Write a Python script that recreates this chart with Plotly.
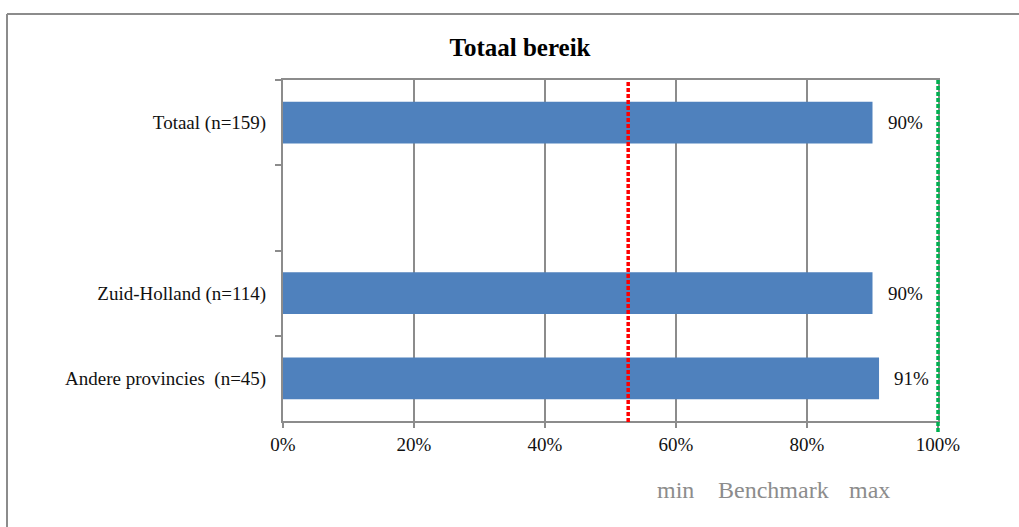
import plotly.graph_objects as go

# Reach per group (percent)
categories = ["Totaal (n=159)", " ", "Zuid-Holland (n=114)", "Andere provincies  (n=45)"]
reach_categories = ["Totaal (n=159)", "Zuid-Holland (n=114)", "Andere provincies  (n=45)"]
reach = [90, 90, 91]
reach_labels = ["90%", "90%", "91%"]

# Benchmark bounds (percent)
benchmark_min = 52.7
benchmark_max = 100

x_ticks = [0, 20, 40, 60, 80, 100]
x_tick_labels = ["0%", "20%", "40%", "60%", "80%", "100%"]

FONT = "Liberation Serif"
GRID = "#8c8c8c"

# Pixel geometry of the figure
W, H = 1019, 527
LEFT, TOP = 283, 80
AXIS_RIGHT, AXIS_BOTTOM = 938, 421      # main plot box
OUTER_RIGHT, OUTER_BOTTOM = 949, 432    # overlay box for the benchmark lines
PW = OUTER_RIGHT - LEFT
PH = OUTER_BOTTOM - TOP
main_x_frac = (AXIS_RIGHT - LEFT) / PW
main_y_start = (OUTER_BOTTOM - AXIS_BOTTOM) / PH


def px_x(px):
    return (px - LEFT) / PW


def px_y(py):
    return (OUTER_BOTTOM - py) / PH


fig = go.Figure()

fig.add_trace(go.Bar(
    y=reach_categories,
    x=reach,
    orientation="h",
    marker=dict(color="#4f81bd", line=dict(width=0)),
    width=0.49,
    showlegend=False,
    hoverinfo="skip",
))

# Value labels to the right of each bar
for cat, val, lab in zip(reach_categories, reach, reach_labels):
    fig.add_annotation(x=val, y=cat, xref="x", yref="y", text=lab,
                       showarrow=False, xanchor="left", yanchor="middle",
                       xshift=13, font=dict(family=FONT, size=19, color="#111111"))

# Benchmark lines, drawn on a slightly larger overlay box so they are not clipped
red_bottom = (OUTER_BOTTOM - (AXIS_BOTTOM + 1)) / PH
fig.add_trace(go.Scatter(
    x=[benchmark_min, benchmark_min], y=[red_bottom, 1.0],
    xaxis="x2", yaxis="y2",
    mode="lines", line=dict(color="#ff0000", width=3.5, dash="4px,2px"),
    name="min", showlegend=False, hoverinfo="skip",
))
fig.add_trace(go.Scatter(
    x=[benchmark_max, benchmark_max], y=[0.0, 1.0],
    xaxis="x2", yaxis="y2",
    mode="lines", line=dict(color="#00b050", width=3.5, dash="4px,2px"),
    name="max", showlegend=False, hoverinfo="skip",
))

# Outer chart frame (left and top edges)
fig.add_shape(type="line", xref="paper", yref="paper",
              x0=px_x(7), x1=px_x(W + 5), y0=px_y(14), y1=px_y(14),
              line=dict(color=GRID, width=2))
fig.add_shape(type="line", xref="paper", yref="paper",
              x0=px_x(7), x1=px_x(7), y0=px_y(14), y1=px_y(H + 5),
              line=dict(color=GRID, width=2))

# Legend text
for label, px in [("min", 675), ("Benchmark", 773), ("max", 869)]:
    fig.add_annotation(xref="paper", yref="paper",
                       x=px_x(px), y=px_y(490),
                       text=label, showarrow=False,
                       font=dict(family=FONT, size=24, color="#8c8c8c"),
                       xanchor="center", yanchor="middle")

fig.update_layout(
    width=W, height=H,
    margin=dict(l=LEFT, r=W - OUTER_RIGHT, t=TOP, b=H - OUTER_BOTTOM),
    paper_bgcolor="white",
    plot_bgcolor="rgba(0,0,0,0)",
    title=dict(text="<b>Totaal bereik</b>", x=520 / W, xref="container",
               y=1 - 47 / H, yref="container", xanchor="center", yanchor="middle",
               font=dict(family=FONT, size=25, color="#000000")),
    font=dict(family=FONT, size=19, color="#111111"),
    xaxis=dict(
        domain=[0, main_x_frac],
        range=[0, 100],
        tickvals=x_ticks, ticktext=x_tick_labels,
        showgrid=True, gridcolor=GRID, gridwidth=2,
        showline=True, linecolor=GRID, linewidth=2, mirror=True,
        ticks="outside", ticklen=5, tickcolor=GRID, tickwidth=2,
        zeroline=False, fixedrange=True,
        tickfont=dict(family=FONT, size=19, color="#111111"),
    ),
    yaxis=dict(
        domain=[main_y_start, 1],
        type="category",
        categoryorder="array", categoryarray=categories,
        autorange="reversed",
        tickson="boundaries",
        showgrid=False,
        showline=True, linecolor=GRID, linewidth=2, mirror=True,
        ticks="outside", ticklen=6, tickcolor=GRID, tickwidth=2,
        ticklabelstandoff=11, fixedrange=True,
        tickfont=dict(family=FONT, size=19, color="#111111"),
    ),
    xaxis2=dict(domain=[0, 1], anchor="y2", range=[0, 100 / main_x_frac],
                visible=False, fixedrange=True),
    yaxis2=dict(domain=[0, 1], anchor="x2", range=[0, 1],
                visible=False, fixedrange=True),
)

fig.write_html("out.html")
